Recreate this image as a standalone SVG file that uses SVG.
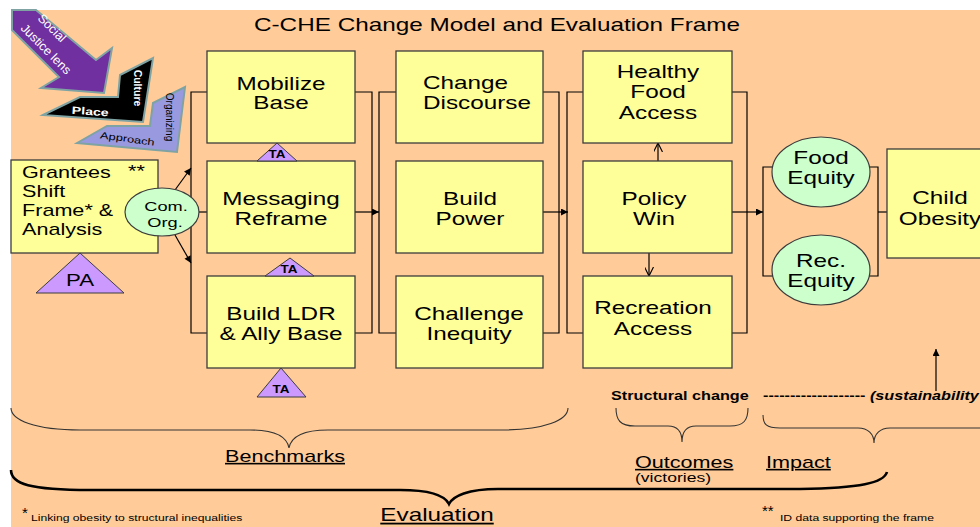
<svg xmlns="http://www.w3.org/2000/svg" width="980" height="527" viewBox="0 0 980 527">
<defs>
<style>
text{font-family:"Liberation Sans",Arial,sans-serif;fill:#000}
.t{font-size:18px;text-anchor:middle}
.g{font-size:16px}
.box{fill:#FFFF99;stroke:#3c3c3c;stroke-width:1.3}
.ell{fill:#CCFFCC;stroke:#3c3c3c;stroke-width:1.2}
.tri{fill:#CC99FF;stroke:#3c3c3c;stroke-width:1}
.ta{font-size:10px;font-weight:bold;text-anchor:middle}
.ln{fill:none;stroke:#000;stroke-width:1.2}
.br{fill:none;stroke:#333;stroke-width:1.1}
.chev{stroke:#7FA3A3;stroke-width:2}
.u{text-decoration:underline}
</style>
<marker id="ah" viewBox="0 0 10 10" refX="10" refY="5" markerWidth="9" markerHeight="7" markerUnits="userSpaceOnUse" orient="auto"><path d="M0 0L10 5L0 10z" fill="#000"/></marker>
<marker id="av" viewBox="0 0 10 10" refX="10" refY="5" markerWidth="9" markerHeight="9" markerUnits="userSpaceOnUse" orient="auto"><path d="M0 0L10 5L0 10" fill="none" stroke="#000" stroke-width="1.3"/></marker>
</defs>
<rect x="0" y="0" width="980" height="527" fill="#fff"/>
<rect x="11" y="10" width="969" height="517" fill="#FFCC99"/>
<text class="t" transform="translate(497 31) scale(1.35 1)">C-CHE Change Model and Evaluation Frame</text>

<g id="lens-arrows">
<polygon points="12,10 36,10 96,60 112,48 104,93 41,88 59,77 12,30" fill="#7030A0" class="chev"/>
<text transform="translate(49 31) rotate(45)" style="font-size:12.5px;fill:#fff;text-anchor:middle">Social</text>
<text transform="translate(43 52) rotate(45)" style="font-size:12.5px;fill:#fff;text-anchor:middle">Justice lens</text>
<polygon points="43,115 80,97 118,97 120,75 153,58 143,122" fill="#000" class="chev"/>
<text transform="translate(90 115) rotate(4) scale(1.35 1)" style="font-size:10.5px;font-weight:bold;fill:#fff;text-anchor:middle">Place</text>
<text transform="translate(134 88) rotate(90)" style="font-size:10.5px;font-weight:bold;fill:#fff;text-anchor:middle">Culture</text>
<polygon points="77,143 107,126 150,126 153,103 185,87 177,152" fill="#9999E0" class="chev"/>
<text transform="translate(127 142) rotate(8) scale(1.35 1)" style="font-size:9.5px;text-anchor:middle">Approach</text>
<text transform="translate(166 117) rotate(90)" style="font-size:10px;text-anchor:middle">Organizing</text>
</g>

<g id="connectors">
<path class="ln" d="M207 92H191V333H207"/>
<path class="ln" d="M175 190L191 168" marker-end="url(#ah)"/>
<path class="ln" d="M175 235L191 263" marker-end="url(#ah)"/>
<path class="ln" d="M195 212H207"/>
<path class="ln" d="M355 92H372V333H355"/>
<path class="ln" d="M355 212H379" marker-end="url(#ah)"/>
<path class="ln" d="M396 92H379V333H396"/>
<path class="ln" d="M543 92H559V333H543"/>
<path class="ln" d="M543 212H568" marker-end="url(#ah)"/>
<path class="ln" d="M583 92H567V333H583"/>
<path class="ln" d="M732 92H747V333H732"/>
<path class="ln" d="M732 212H763" marker-end="url(#ah)"/>
<path class="ln" d="M775 167H763V276H775"/>
<path class="ln" d="M866 167H878V276H866"/>
<path class="ln" d="M878 212H887"/>
<path class="ln" d="M658 161V143" marker-end="url(#av)"/>
<path class="ln" d="M649 253V276" marker-end="url(#av)"/>
<path class="ln" d="M936 155V177" marker-end="url(#ah)"/>
<path class="ln" d="M936 391V349" marker-end="url(#ah)"/>
</g>

<g id="grantees">
<rect class="box" x="11" y="160" width="147" height="93"/>
<text class="g" transform="translate(22 178) scale(1.35 1)">Grantees</text>
<text class="g" transform="translate(128 177) scale(1.35 1)">**</text>
<text class="g" transform="translate(22 197) scale(1.35 1)">Shift</text>
<text class="g" transform="translate(22 216) scale(1.35 1)">Frame* &amp;</text>
<text class="g" transform="translate(22 235) scale(1.35 1)">Analysis</text>
</g>
<g id="pa">
<polygon class="tri" points="36,293 80,253 124,293"/>
<text transform="translate(80 286) scale(1.35 1)" style="font-size:16.5px;text-anchor:middle">PA</text>
</g>
<g id="comorg">
<ellipse class="ell" cx="162" cy="212" rx="37" ry="24"/>
<text transform="translate(166 211) scale(1.35 1)" style="font-size:13.5px;text-anchor:middle">Com.</text>
<text transform="translate(165 227) scale(1.35 1)" style="font-size:13.5px;text-anchor:middle">Org.</text>
</g>

<g id="mobilize">
<rect class="box" x="207" y="51" width="148" height="92"/>
<text class="t" transform="translate(281 90) scale(1.35 1)">Mobilize</text>
<text class="t" transform="translate(281 109) scale(1.35 1)">Base</text>
</g>
<g id="messaging">
<rect class="box" x="207" y="161" width="148" height="92"/>
<text class="t" transform="translate(281 205) scale(1.35 1)">Messaging</text>
<text class="t" transform="translate(281 225) scale(1.35 1)">Reframe</text>
</g>
<g id="buildldr">
<rect class="box" x="207" y="276" width="148" height="92"/>
<text class="t" transform="translate(281 320) scale(1.35 1)">Build LDR</text>
<text class="t" transform="translate(281 340) scale(1.35 1)">&amp; Ally Base</text>
</g>
<g id="ta1">
<polygon class="tri" points="257,161 277,143 297,161"/>
<text class="ta" transform="translate(277 158) scale(1.35 1)">TA</text>
</g>
<g id="ta2">
<polygon class="tri" points="265,276 290,258 314,276"/>
<text class="ta" transform="translate(289 273) scale(1.35 1)">TA</text>
</g>
<g id="ta3">
<polygon class="tri" points="257,397 281,368 306,397"/>
<text class="ta" transform="translate(281 393) scale(1.35 1)">TA</text>
</g>

<g id="discourse">
<rect class="box" x="396" y="51" width="147" height="92"/>
<text class="t" style="text-anchor:start" transform="translate(423 89) scale(1.35 1)">Change</text>
<text class="t" style="text-anchor:start" transform="translate(423 109) scale(1.35 1)">Discourse</text>
</g>
<g id="power">
<rect class="box" x="396" y="161" width="147" height="92"/>
<text class="t" transform="translate(470 205) scale(1.35 1)">Build</text>
<text class="t" transform="translate(470 225) scale(1.35 1)">Power</text>
</g>
<g id="inequity">
<rect class="box" x="396" y="276" width="147" height="92"/>
<text class="t" transform="translate(469 320) scale(1.35 1)">Challenge</text>
<text class="t" transform="translate(469 340) scale(1.35 1)">Inequity</text>
</g>

<g id="food">
<rect class="box" x="583" y="51" width="149" height="92"/>
<text class="t" transform="translate(658 78) scale(1.35 1)">Healthy</text>
<text class="t" transform="translate(658 98) scale(1.35 1)">Food</text>
<text class="t" transform="translate(658 119) scale(1.35 1)">Access</text>
</g>
<g id="policy">
<rect class="box" x="583" y="161" width="149" height="92"/>
<text class="t" transform="translate(654 205) scale(1.35 1)">Policy</text>
<text class="t" transform="translate(654 225) scale(1.35 1)">Win</text>
</g>
<g id="recreation">
<rect class="box" x="583" y="276" width="149" height="92"/>
<text class="t" transform="translate(653 314) scale(1.35 1)">Recreation</text>
<text class="t" transform="translate(653 335) scale(1.35 1)">Access</text>
</g>

<g id="foodequity">
<ellipse class="ell" cx="821" cy="172" rx="49" ry="35"/>
<text class="t" transform="translate(821 164) scale(1.35 1)">Food</text>
<text class="t" transform="translate(821 184) scale(1.35 1)">Equity</text>
</g>
<g id="recequity">
<ellipse class="ell" cx="821" cy="270" rx="49" ry="35"/>
<text class="t" transform="translate(821 267) scale(1.35 1)">Rec.</text>
<text class="t" transform="translate(821 287) scale(1.35 1)">Equity</text>
</g>
<g id="child">
<rect class="box" x="887" y="149" width="100" height="109"/>
<text class="t" transform="translate(940 204) scale(1.35 1)">Child</text>
<text class="t" transform="translate(940 225) scale(1.35 1)">Obesity</text>
</g>

<g id="labels">
<text transform="translate(611 400) scale(1.35 1)" style="font-size:12px;font-weight:bold">Structural change</text>
<text transform="translate(763 400) scale(1.35 1)" style="font-size:12px;font-weight:bold">------------------- <tspan font-style="italic">(sustainability</tspan></text>
<path class="br" d="M616 408C616 420 620 426 635 426H668C678 426 682 432 682 442C682 432 686 426 696 426H730C744 426 748 420 748 408"/>
<path class="br" d="M763 415C763 424 766 428 780 428H858C868 428 874 434 874 443C874 434 880 428 890 428H990"/>
<text class="u" transform="translate(635 468) scale(1.35 1)" style="font-size:16px">Outcomes</text>
<text transform="translate(635 482) scale(1.35 1)" style="font-size:13px">(victories)</text>
<text class="u" transform="translate(766 468) scale(1.35 1)" style="font-size:16px">Impact</text>
<path class="br" d="M11 408C11 420 35 430 80 430H250C275 430 287 437 289 448C291 437 303 430 328 430H500C545 430 568 420 568 408"/>
<text class="u" transform="translate(285 462) scale(1.35 1)" style="font-size:16px;text-anchor:middle">Benchmarks</text>
<path d="M11 470C11 484 30 490 90 490H400C430 490 445 496 449 504C453 496 468 489 498 489H800C860 488 884 483 887 472" fill="none" stroke="#000" stroke-width="2.6"/>
<text class="u" transform="translate(437 521) scale(1.35 1)" style="font-size:18px;text-anchor:middle">Evaluation</text>
<text transform="translate(22 518)" style="font-size:15px">*</text>
<text transform="translate(31 521) scale(1.35 1)" style="font-size:9px">Linking obesity to structural inequalities</text>
<text transform="translate(762 516)" style="font-size:15px">**</text>
<text transform="translate(780 521) scale(1.35 1)" style="font-size:9px">ID data supporting the frame</text>
</g>
</svg>
